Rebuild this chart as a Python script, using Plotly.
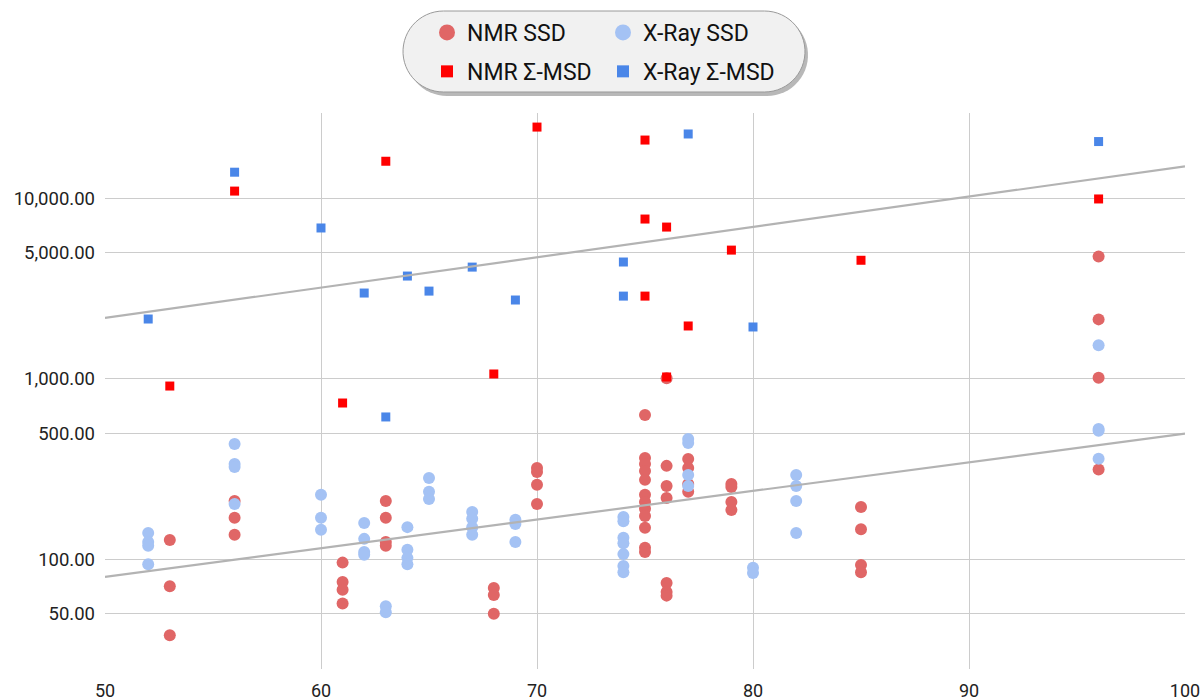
import numpy as np
import plotly.graph_objects as go

# ---------------- data ----------------
nmr_ssd_x = [53, 53, 53, 56, 56, 56, 61, 61, 61, 61, 63, 63, 63, 63, 68, 68, 68,
             70, 70, 70, 70,
             75, 75, 75, 75, 75, 75, 75, 75, 75, 75, 75, 75,
             76, 76, 76, 76, 76, 76, 76, 77, 77, 77, 77, 79, 79, 79, 79,
             85, 85, 85, 85, 96, 96, 96, 96]
nmr_ssd_y = [128, 71, 38, 211, 170, 137, 96, 75, 68, 57, 211, 170, 125, 119, 69.5, 63.6, 50,
             321, 305, 259, 203,
             632, 365, 338, 309, 276, 228, 208, 191, 174, 150, 116, 110,
             1010, 330, 255, 219, 74, 66, 63, 360, 321, 262, 237, 262, 252, 208, 188,
             195, 147, 93, 85, 4770, 2140, 1015, 315]

xray_ssd_x = [52, 52, 52, 52, 56, 56, 56, 56, 60, 60, 60, 62, 62, 62, 62, 63, 63,
              64, 64, 64, 64, 65, 65, 65, 67, 67, 67, 67, 69, 69, 69,
              74, 74, 74, 74, 74, 74, 74, 77, 77, 77, 77, 80, 80,
              82, 82, 82, 82, 96, 96, 96, 96]
xray_ssd_y = [140, 125, 119, 94, 436, 338, 325, 203, 228, 170, 146, 159, 130, 110, 106, 55, 51,
              151, 113, 102, 94, 283, 237, 216, 183, 168, 151, 137, 166, 157, 125,
              172, 163, 132, 123, 107, 92, 85, 465, 442, 294, 255, 90, 84,
              294, 255, 211, 140, 1537, 529, 517, 361]

nmr_msd_x = [53, 56, 61, 63, 68, 70, 75, 75, 75, 76, 76, 77, 79, 85, 96]
nmr_msd_y = [914, 11000, 736, 16100, 1066, 24900, 21100, 7700, 2880, 6950, 1026, 1967, 5180, 4550, 9950]

xray_msd_x = [52, 56, 60, 62, 63, 64, 65, 67, 69, 74, 74, 77, 80, 96]
xray_msd_y = [2150, 14000, 6870, 2995, 616, 3720, 3070, 4170, 2740, 4450, 2880, 22800, 1942, 20700]

trend_x = [50, 100]
trend_upper_y = [2180, 15100]
trend_lower_y = [80, 498]

x_ticks = [50, 60, 70, 80, 90, 100]
y_ticks = [50, 100, 500, 1000, 5000, 10000]

# ---------------- layout helpers ----------------
W, H = 1203, 700
L, R, T, B = 105, 1185, 113, 669


def px(xp):
    return (xp - L) / (R - L)


def py(yp):
    return (B - yp) / (B - T)


def pill_path(x0, y0, x1, y1):
    r = (y1 - y0) / 2
    pts = []
    cy = (y0 + y1) / 2
    for a in np.linspace(-np.pi / 2, np.pi / 2, 30):
        pts.append((x1 - r + r * np.cos(a), cy + r * np.sin(a)))
    for a in np.linspace(np.pi / 2, 3 * np.pi / 2, 30):
        pts.append((x0 + r + r * np.cos(a), cy + r * np.sin(a)))
    d = "M " + " L ".join(f"{px(a):.5f},{py(b):.5f}" for a, b in pts) + " Z"
    return d


FONT = "Roboto"
C_NMR_SSD, C_XRAY_SSD, C_NMR_MSD, C_XRAY_MSD = "#e06666", "#a4c2f4", "#ff0000", "#4a86e8"

fig = go.Figure()

# data series
fig.add_trace(go.Scatter(x=nmr_ssd_x, y=nmr_ssd_y, mode="markers", name="NMR SSD",
                         marker=dict(symbol="circle", size=12, color=C_NMR_SSD), showlegend=False))
fig.add_trace(go.Scatter(x=xray_ssd_x, y=xray_ssd_y, mode="markers", name="X-Ray SSD",
                         marker=dict(symbol="circle", size=12, color=C_XRAY_SSD), showlegend=False))
fig.add_trace(go.Scatter(x=nmr_msd_x, y=nmr_msd_y, mode="markers", name="NMR Σ-MSD",
                         marker=dict(symbol="square", size=9, color=C_NMR_MSD), showlegend=False))
fig.add_trace(go.Scatter(x=xray_msd_x, y=xray_msd_y, mode="markers", name="X-Ray Σ-MSD",
                         marker=dict(symbol="square", size=9, color=C_XRAY_MSD), showlegend=False))
fig.add_trace(go.Scatter(x=trend_x, y=trend_upper_y, mode="lines", showlegend=False,
                         line=dict(color="#b3b3b3", width=2.2), hoverinfo="skip"))
fig.add_trace(go.Scatter(x=trend_x, y=trend_lower_y, mode="lines", showlegend=False,
                         line=dict(color="#b3b3b3", width=2.2), hoverinfo="skip"))

# legend entries (larger symbols, like the reference legend)
for name, sym, size, col, leg, grp in [
    ("NMR SSD", "circle", 17, C_NMR_SSD, "legend", "a"),
    ("NMR Σ-MSD", "square", 12, C_NMR_MSD, "legend", "b"),
    ("X-Ray SSD", "circle", 17, C_XRAY_SSD, "legend2", "c"),
    ("X-Ray Σ-MSD", "square", 12, C_XRAY_MSD, "legend2", "d"),
]:
    fig.add_trace(go.Scatter(x=[None], y=[None], mode="markers", name=name,
                             marker=dict(symbol=sym, size=size, color=col),
                             legend=leg, legendgroup=grp, showlegend=True))

legend_common = dict(
    orientation="v", bgcolor="rgba(0,0,0,0)", borderwidth=0,
    font=dict(family=FONT, size=23, color="#111111"),
    xanchor="left", yanchor="top", tracegroupgap=6,
    itemsizing="trace", traceorder="grouped",
)

fig.update_layout(
    width=W, height=H,
    margin=dict(l=L, r=W - R, t=T, b=H - B, pad=0, autoexpand=False),
    paper_bgcolor="white", plot_bgcolor="white",
    font=dict(family=FONT, size=18, color="#222222"),
    legend=dict(x=px(427), y=py(11), **legend_common),
    legend2=dict(x=px(603), y=py(11), **legend_common),
    xaxis=dict(range=[50, 100], tickvals=x_ticks, showgrid=True, gridcolor="#cccccc",
               gridwidth=1, zeroline=False, showline=False, ticks="", automargin=False,
               ticklabelstandoff=9,
               tickfont=dict(family=FONT, size=18, color="#222222")),
    yaxis=dict(type="log", range=[np.log10(24.7), np.log10(29800)], tickvals=y_ticks,
               tickformat=",.2f", showgrid=True, gridcolor="#cccccc", gridwidth=1,
               zeroline=False, showline=False, ticks="", automargin=False,
               ticklabelstandoff=9,
               tickfont=dict(family=FONT, size=18.5, color="#222222")),
    showlegend=True,
    shapes=[
        dict(type="path", xref="paper", yref="paper", path=pill_path(406, 14, 808, 96),
             fillcolor="rgba(0,0,0,0.28)", line=dict(width=0), layer="below"),
        dict(type="path", xref="paper", yref="paper", path=pill_path(403, 11, 805, 92),
             fillcolor="#f1f1f1", line=dict(color="#9a9a9a", width=1), layer="below"),
    ],
)

fig.write_html(
    "out.html",
    config={"displayModeBar": False},
    post_script="document.body.style.margin='0';document.body.style.overflow='hidden';",
)
